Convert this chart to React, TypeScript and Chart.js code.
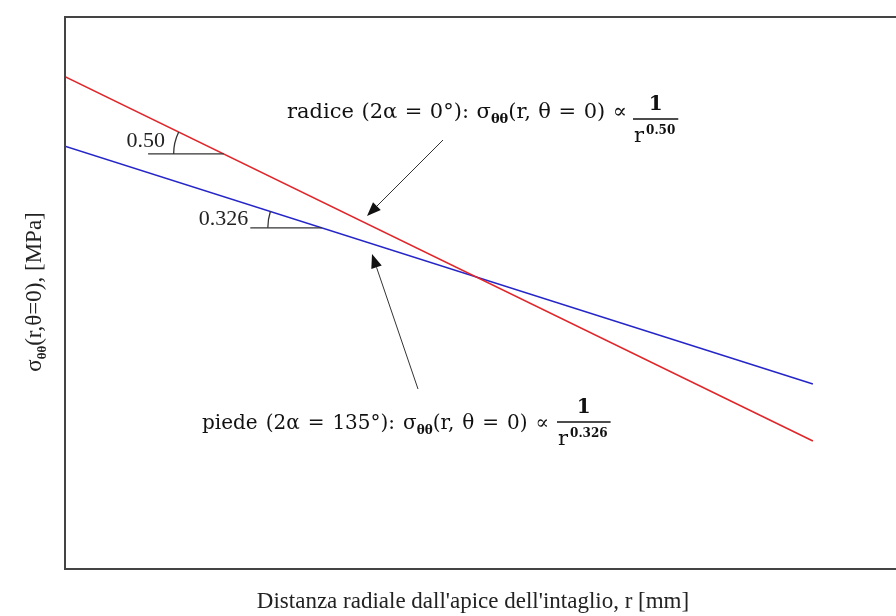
import React, { useEffect, useRef } from "react";
import { Chart, registerables } from "chart.js";

Chart.register(...registerables);

// Normalised distance from the notch tip (axis range 0..100, no ticks shown)
const rValues = [0, 90];
// Stress along the bisector for the two notch geometries (normalised units)
const radiceStress = [89.2, 23.2];
const piedeStress = [76.6, 33.5];

const X_TITLE = "Distanza radiale dall'apice dell'intaglio, r [mm]";
const Y_TITLE_MAIN = "σ";
const Y_TITLE_SUB = "θθ";
const Y_TITLE_REST = "(r,θ=0), [MPa]";

const SERIF = "'Liberation Serif', 'Times New Roman', serif";
const MATH = "'DejaVu Serif', 'Liberation Serif', serif";

type Seg = { t: string; sub?: boolean };

// Draws a run of text segments (with subscripts), adjusting the spaces so the run ends at `right`
function drawJustified(
  ctx: CanvasRenderingContext2D,
  segs: Seg[],
  x: number,
  y: number,
  size: number,
  right: number
) {
  const mainFont = `${size}px ${MATH}`;
  const subFont = `bold ${Math.round(size * 0.62)}px ${MATH}`;
  let natural = 0;
  let spaces = 0;
  for (const s of segs) {
    ctx.font = s.sub ? subFont : mainFont;
    natural += ctx.measureText(s.t).width;
    if (!s.sub) spaces += (s.t.match(/ /g) || []).length;
  }
  const extra = spaces > 0 ? (right - x - natural) / spaces : 0;
  let cx = x;
  for (const s of segs) {
    if (s.sub) {
      ctx.font = subFont;
      ctx.fillText(s.t, cx, y + size * 0.25);
      cx += ctx.measureText(s.t).width;
      continue;
    }
    ctx.font = mainFont;
    const words = s.t.split(" ");
    words.forEach((w, i) => {
      ctx.fillText(w, cx, y);
      cx += ctx.measureText(w).width;
      if (i < words.length - 1) cx += ctx.measureText(" ").width + extra;
    });
  }
}

function drawFraction(ctx: CanvasRenderingContext2D, x: number, barY: number, exp: string) {
  ctx.font = `bold 12px ${MATH}`;
  const expW = ctx.measureText(exp).width;
  ctx.font = `21px ${MATH}`;
  const rW = ctx.measureText("r").width;
  const w = rW + expW + 6;
  ctx.strokeStyle = "#111";
  ctx.lineWidth = 1.4;
  ctx.beginPath();
  ctx.moveTo(x, barY);
  ctx.lineTo(x + w, barY);
  ctx.stroke();
  ctx.textBaseline = "alphabetic";
  ctx.font = `bold 20px ${MATH}`;
  const oneW = ctx.measureText("1").width;
  ctx.fillText("1", x + (w - oneW) / 2, barY - 9);
  ctx.font = `21px ${MATH}`;
  ctx.fillText("r", x + 1, barY + 23);
  ctx.font = `bold 12px ${MATH}`;
  ctx.fillText(exp, x + 3 + rW, barY + 15);
}

function arrow(ctx: CanvasRenderingContext2D, x0: number, y0: number, x1: number, y1: number) {
  const a = Math.atan2(y1 - y0, x1 - x0);
  const len = 14;
  const hw = 5.5;
  const bx = x1 - len * Math.cos(a);
  const by = y1 - len * Math.sin(a);
  ctx.strokeStyle = "#333";
  ctx.lineWidth = 1;
  ctx.beginPath();
  ctx.moveTo(x0, y0);
  ctx.lineTo(bx, by);
  ctx.stroke();
  ctx.fillStyle = "#111";
  ctx.beginPath();
  ctx.moveTo(x1, y1);
  ctx.lineTo(bx + hw * Math.sin(a), by - hw * Math.cos(a));
  ctx.lineTo(bx - hw * Math.sin(a), by + hw * Math.cos(a));
  ctx.closePath();
  ctx.fill();
}

// Slope marker: horizontal leg ending on the line, an arc for the angle and the exponent label
function slopeMarker(
  chart: any,
  xs: number[],
  ys: number[],
  level: number,
  startX: number,
  radius: number,
  label: string,
  labelRight: number,
  labelLift: number
) {
  const ctx: CanvasRenderingContext2D = chart.ctx;
  const sx = chart.scales.x;
  const sy = chart.scales.y;
  const p0 = { x: sx.getPixelForValue(xs[0]), y: sy.getPixelForValue(ys[0]) };
  const p1 = { x: sx.getPixelForValue(xs[1]), y: sy.getPixelForValue(ys[1]) };
  const yPix = sy.getPixelForValue(level);
  const t = (yPix - p0.y) / (p1.y - p0.y);
  const ix = p0.x + t * (p1.x - p0.x);
  const x0 = sx.getPixelForValue(startX);
  const ang = Math.atan2(p1.y - p0.y, p1.x - p0.x);
  ctx.save();
  ctx.strokeStyle = "#333";
  ctx.lineWidth = 1.3;
  ctx.beginPath();
  ctx.moveTo(x0, yPix);
  ctx.lineTo(ix, yPix);
  ctx.stroke();
  ctx.beginPath();
  ctx.arc(ix, yPix, radius, Math.PI, Math.PI + ang, false);
  ctx.stroke();
  ctx.fillStyle = "#222";
  ctx.font = `22px ${SERIF}`;
  ctx.textAlign = "right";
  ctx.textBaseline = "alphabetic";
  ctx.fillText(label, x0 + labelRight, yPix - labelLift);
  ctx.restore();
}

const decorations = {
  id: "decorations",
  afterDatasetsDraw(chart: any) {
    const ctx: CanvasRenderingContext2D = chart.ctx;
    const { left, top, bottom } = chart.chartArea;
    ctx.save();
    // frame (right edge lies outside the canvas)
    ctx.strokeStyle = "#444";
    ctx.lineWidth = 2;
    ctx.beginPath();
    ctx.moveTo(chart.width + 2, top);
    ctx.lineTo(left, top);
    ctx.lineTo(left, bottom);
    ctx.lineTo(chart.width + 2, bottom);
    ctx.stroke();

    slopeMarker(chart, rValues, radiceStress, 75.2, 10.0, 50, "0.50", 17, 7);
    slopeMarker(chart, rValues, piedeStress, 61.8, 22.3, 54, "0.326", -2, 3);

    arrow(ctx, 443, 140, 367, 216);
    arrow(ctx, 418, 389, 372, 254);

    ctx.fillStyle = "#111";
    ctx.textAlign = "left";
    ctx.textBaseline = "alphabetic";
    drawJustified(
      ctx,
      [{ t: "radice (2α = 0°): σ" }, { t: "θθ", sub: true }, { t: "(r, θ = 0) ∝" }],
      287,
      118,
      21,
      627
    );
    drawFraction(ctx, 633, 119, "0.50");
    drawJustified(
      ctx,
      [{ t: "piede (2α = 135°): σ" }, { t: "θθ", sub: true }, { t: "(r, θ = 0) ∝" }],
      202,
      429,
      20,
      549
    );
    drawFraction(ctx, 557, 422, "0.326");

    // axis titles
    ctx.fillStyle = "#222";
    ctx.font = `23px ${SERIF}`;
    ctx.textAlign = "center";
    ctx.fillText(X_TITLE, 473, 608);

    ctx.save();
    ctx.translate(41, 292);
    ctx.rotate(-Math.PI / 2);
    ctx.font = `23px ${SERIF}`;
    const wMain = ctx.measureText(Y_TITLE_MAIN).width;
    const wRest = ctx.measureText(Y_TITLE_REST).width;
    ctx.font = `bold 13px ${SERIF}`;
    const wSub = ctx.measureText(Y_TITLE_SUB).width;
    let x = -(wMain + wSub + wRest) / 2;
    ctx.textAlign = "left";
    ctx.font = `23px ${SERIF}`;
    ctx.fillText(Y_TITLE_MAIN, x, 0);
    x += wMain;
    ctx.font = `bold 13px ${SERIF}`;
    ctx.fillText(Y_TITLE_SUB, x, 5);
    x += wSub;
    ctx.font = `23px ${SERIF}`;
    ctx.fillText(Y_TITLE_REST, x, 0);
    ctx.restore();

    ctx.restore();
  },
};

export default function App() {
  const ref = useRef<HTMLCanvasElement | null>(null);
  useEffect(() => {
    document.body.style.margin = "0";
    if (!ref.current) return;
    const chart = new Chart(ref.current, {
      type: "line",
      data: {
        datasets: [
          {
            label: "radice",
            data: rValues.map((x, i) => ({ x, y: radiceStress[i] })),
            borderColor: "#e0262a",
            borderWidth: 1.6,
            pointRadius: 0,
          },
          {
            label: "piede",
            data: rValues.map((x, i) => ({ x, y: piedeStress[i] })),
            borderColor: "#2626c8",
            borderWidth: 1.6,
            pointRadius: 0,
          },
        ],
      },
      options: {
        animation: false,
        responsive: false,
        layout: { padding: { left: 65, top: 17, right: 0, bottom: 47 } },
        plugins: { legend: { display: false }, tooltip: { enabled: false } },
        scales: {
          x: { type: "linear", min: 0, max: 100, display: false },
          y: { type: "linear", min: 0, max: 100, display: false },
        },
      },
      plugins: [decorations],
    });
    return () => chart.destroy();
  }, []);
  return (
    <div style={{ width: 896, height: 616, background: "#fff" }}>
      <canvas ref={ref} width={896} height={616} />
    </div>
  );
}
